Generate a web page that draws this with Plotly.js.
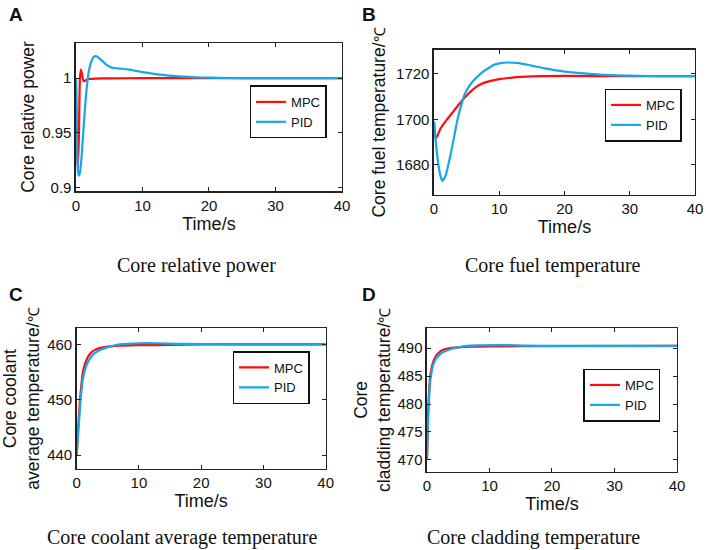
<!DOCTYPE html>
<html>
<head>
<meta charset="utf-8">
<script src="https://cdn.plot.ly/plotly-3.0.1.min.js"></script>
<style>
  body { margin: 0; background: #fff; }
  #chart { width: 706px; height: 550px; }
</style>
</head>
<body>
<div id="chart"></div>
<script>
// A: core relative power
var powerMpcT = [0, 0.1, 0.2, 0.3, 0.45, 0.6, 0.75, 0.9, 1.1, 1.3, 1.6, 2, 3, 5, 10, 20, 40];
var powerMpc  = [1, 0.96, 0.93, 0.918, 0.95, 1.0, 1.0078, 1.004, 0.998, 0.9972, 0.9985, 0.9993, 0.9996, 0.9998, 0.9999, 1, 1];
var powerPidT = [0, 0.15, 0.3, 0.45, 0.6, 0.8, 1.0, 1.3, 1.6, 1.9, 2.3, 2.7, 3.0, 3.4, 4.0, 4.6, 5.3, 6.0, 7.0, 8.0, 9.0, 10, 12, 14, 16, 18, 20, 23, 26, 30, 40];
var powerPid  = [1, 0.94, 0.915, 0.911, 0.914, 0.925, 0.942, 0.968, 0.99, 1.005, 1.015, 1.0195, 1.02, 1.0185, 1.0155, 1.012, 1.0098, 1.009, 1.0085, 1.0077, 1.0066, 1.0055, 1.0037, 1.0023, 1.0013, 1.0007, 1.0004, 1.0001, 1, 1, 1];

// B: core fuel temperature
var fuelMpcT = [0, 0.3, 1, 2, 3, 4, 5, 6, 7, 8, 10, 12, 15, 20, 30, 40];
var fuelMpc  = [1699, 1691.5, 1696, 1700, 1703.6, 1707.2, 1710.5, 1713.2, 1715.2, 1716.4, 1717.7, 1718.4, 1718.9, 1719.1, 1719, 1719];
var fuelPidT = [0, 0.5, 1, 1.3, 1.8, 2.5, 3, 3.6, 4.2, 4.7, 5.3, 6.1, 7, 7.7, 8.5, 9.2, 10, 11.3, 13, 15, 17, 20, 23, 26, 30, 35, 40];
var fuelPid  = [1699, 1684, 1675, 1673, 1675.5, 1684, 1691, 1700, 1706.5, 1711, 1714.2, 1717.2, 1719.7, 1721.3, 1722.8, 1724, 1724.6, 1725, 1724.7, 1723.6, 1722.4, 1721, 1720.2, 1719.6, 1719.2, 1719, 1719];

// C: core coolant average temperature
var coolMpcT = [0, 0.25, 0.5, 0.75, 1, 1.5, 2, 2.5, 3, 4, 5, 7, 10, 15, 20, 40];
var coolMpc  = [440, 445, 449.5, 452.6, 455, 457, 458.1, 458.7, 459.05, 459.4, 459.6, 459.75, 459.85, 459.9, 460, 460];
var coolPidT = [0, 0.25, 0.5, 0.75, 1, 1.5, 2, 2.5, 3, 4, 5, 6, 7, 8, 10, 13, 16, 20, 25, 40];
var coolPid  = [440, 444, 448, 451.5, 453.8, 456, 457.2, 458, 458.5, 459.1, 459.5, 459.8, 460, 460.1, 460.2, 460.2, 460.1, 460.05, 460, 460];

// D: core cladding temperature
var cladMpcT = [0, 0.1, 0.2, 0.35, 0.5, 0.75, 1, 1.5, 2, 2.5, 3, 4, 5, 7, 10, 15, 40];
var cladMpc  = [470, 475, 479, 482.5, 484.8, 486.5, 487.6, 488.7, 489.3, 489.65, 489.85, 490.05, 490.15, 490.25, 490.3, 490.35, 490.4];
var cladPidT = [0, 0.1, 0.2, 0.35, 0.5, 0.75, 1, 1.5, 2, 2.5, 3, 4, 5, 6, 8, 12, 16, 20, 40];
var cladPid  = [470, 474, 478, 481.5, 483.8, 485.8, 487, 488.2, 488.8, 489.25, 489.5, 489.9, 490.15, 490.35, 490.5, 490.55, 490.45, 490.4, 490.4];

var seriesNames = ['MPC', 'PID'];
var panelLetters = ['A', 'B', 'C', 'D'];
var captions = ['Core relative power', 'Core fuel temperature', 'Core coolant average temperature', 'Core cladding temperature'];
var degC = '<span style="font-family:Liberation Serif;font-size:15px">℃</span>';
var yTitles = ['Core relative power', 'Core fuel temperature/' + degC,
               'Core coolant<br>average temperature/' + degC, 'Core<br>cladding temperature/' + degC];

var RED = '#ff0d0d', BLUE = '#14a7ec';
var FONT = 'Arial, Liberation Sans, sans-serif';

function curve(x, y, name, color, n) {
  return {
    x: x, y: y, name: name, type: 'scatter', mode: 'lines',
    line: {color: color, width: 2.2, shape: 'spline', smoothing: 0.6},
    xaxis: 'x' + (n === 1 ? '' : n), yaxis: 'y' + (n === 1 ? '' : n),
    legend: n === 1 ? 'legend' : 'legend' + n,
    showlegend: true, hoverinfo: 'skip'
  };
}

var data = [
  curve(powerMpcT, powerMpc, seriesNames[0], RED, 1),
  curve(powerPidT, powerPid, seriesNames[1], BLUE, 1),
  curve(fuelMpcT, fuelMpc, seriesNames[0], RED, 2),
  curve(fuelPidT, fuelPid, seriesNames[1], BLUE, 2),
  curve(coolMpcT, coolMpc, seriesNames[0], RED, 3),
  curve(coolPidT, coolPid, seriesNames[1], BLUE, 3),
  curve(cladMpcT, cladMpc, seriesNames[0], RED, 4),
  curve(cladPidT, cladPid, seriesNames[1], BLUE, 4)
];

function xax(dom, anchor) {
  return {
    domain: dom, anchor: anchor, range: [0, 40], tickvals: [0, 10, 20, 30, 40],
    showline: true, mirror: 'ticks', linecolor: '#222', linewidth: 1.5,
    ticks: 'inside', ticklen: 4, tickcolor: '#222', showgrid: false, zeroline: false,
    tickfont: {family: FONT, size: 15, color: '#111'},
    title: {text: 'Time/s', font: {family: FONT, size: 18, color: '#111'}, standoff: 3}
  };
}
function yax(dom, anchor, range, ticks, text, tickText, standoff) {
  return {
    domain: dom, anchor: anchor, range: range, tickvals: ticks, ticktext: tickText,
    showline: true, mirror: 'ticks', linecolor: '#222', linewidth: 1.5,
    ticks: 'inside', ticklen: 4, tickcolor: '#222', showgrid: false, zeroline: false,
    tickfont: {family: FONT, size: 15, color: '#111'},
    title: {text: text, font: {family: FONT, size: 17.5, color: '#111'}, standoff: standoff}
  };
}
function leg(x, y) {
  return {
    x: x, y: y, xanchor: 'center', yanchor: 'middle', xref: 'paper', yref: 'paper',
    bgcolor: '#fff', bordercolor: '#111', borderwidth: 1.5,
    font: {family: FONT, size: 13, color: '#111'}, tracegroupgap: 0, itemwidth: 30
  };
}

var annotations = [];
var letterPos = [[0.010, 0.997], [0.510, 0.997], [0.010, 0.487], [0.510, 0.487]];
var capPos = [[0.279, 0.518], [0.783, 0.518], [0.259, 0.022], [0.755, 0.022]];
for (var i = 0; i < 4; i++) {
  annotations.push({
    text: '<b>' + panelLetters[i] + '</b>', x: letterPos[i][0], y: letterPos[i][1],
    xref: 'paper', yref: 'paper', xanchor: 'left', yanchor: 'top', showarrow: false,
    font: {family: FONT, size: 19, color: '#111'}
  });
  annotations.push({
    text: captions[i], x: capPos[i][0], y: capPos[i][1],
    xref: 'paper', yref: 'paper', xanchor: 'center', yanchor: 'middle', showarrow: false,
    font: {family: 'Liberation Serif, Times New Roman, serif', size: 20, color: '#111'}
  });
}

var layout = {
  width: 706, height: 550,
  margin: {l: 0, r: 0, t: 0, b: 0},
  paper_bgcolor: '#fff', plot_bgcolor: '#fff',
  font: {family: FONT, color: '#111'},
  xaxis: xax([0.1076, 0.4844], 'y'),
  yaxis: yax([0.6527, 0.9218], 'x', [0.897, 1.032], [0.9, 0.95, 1], yTitles[0], ['0.9', '0.95', '1'], 3),
  xaxis2: xax([0.6147, 0.9844], 'y2'),
  yaxis2: yax([0.6455, 0.9091], 'x2', [1666.8, 1730.5], [1680, 1700, 1720], yTitles[1], null, 6),
  xaxis3: xax([0.1086, 0.4613], 'y3'),
  yaxis3: yax([0.1473, 0.4031], 'x3', [437.5, 462.9], [440, 450, 460], yTitles[2], null, 3),
  xaxis4: xax([0.6048, 0.9589], 'y4'),
  yaxis4: yax([0.1424, 0.4036], 'x4', [467.9, 493.6], [470, 475, 480, 485, 490], yTitles[3], null, 2),
  legend: leg(0.408, 0.7964),
  legend2: leg(0.9108, 0.7909),
  legend3: leg(0.3839, 0.3136),
  legend4: leg(0.881, 0.2818),
  annotations: annotations
};

Plotly.newPlot('chart', data, layout, {staticPlot: true, displayModeBar: false});
</script>
</body>
</html>
